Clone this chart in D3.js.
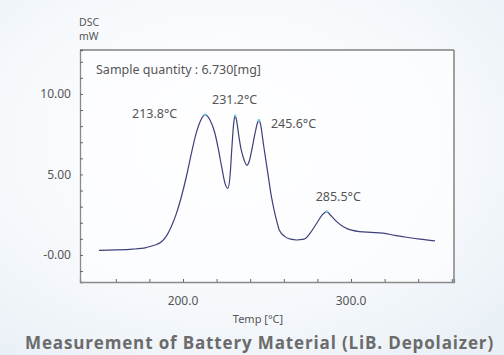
<!DOCTYPE html>
<html>
<head>
<meta charset="utf-8">
<script src="https://cdn.jsdelivr.net/npm/d3@7"></script>
<style>
  html, body { margin: 0; padding: 0; }
  body { width: 504px; height: 355px; overflow: hidden; }
  svg { display: block; font-family: "Noto Sans", "Open Sans", sans-serif; }
</style>
</head>
<body>
<svg id="chart"></svg>
<script>
// DSC curve (temperature in °C, DSC in mW)
const temps = [150, 160, 170, 178, 183, 187, 190, 193, 196, 199, 202.2, 205.2, 207.7, 210.5, 212, 213.1,
  214.4, 216, 219, 221, 223, 225, 226.7, 228, 229, 230.2, 231, 231.8, 233, 234.5, 235.9, 238.1, 239.5,
  240.9, 242.9, 244.3, 245.2, 246.2, 247.8, 249.3, 250.8, 252.5, 254.2, 255.8, 257.3, 260.7, 264,
  267.7, 272, 276, 279.6, 283, 285.5, 288, 291.5, 295, 298, 305, 312, 319, 326, 333, 341, 350];
const dsc = [0.29, 0.31, 0.36, 0.46, 0.6, 0.8, 1.15, 1.75, 2.55, 3.6, 4.95, 6.4, 7.5, 8.35, 8.62, 8.7,
  8.64, 8.4, 7.56, 6.6, 5.48, 4.45, 4.14, 4.9, 6.5, 8.2, 8.65, 8.4, 7.56, 6.6, 6.05, 5.57, 5.85,
  6.5, 7.56, 8.2, 8.36, 8.1, 6.94, 5.9, 4.86, 3.7, 2.8, 2.1, 1.55, 1.14, 0.98,
  0.93, 0.98, 1.4, 1.97, 2.5, 2.69, 2.45, 2.07, 1.78, 1.62, 1.45, 1.4, 1.35, 1.22, 1.1, 0.98, 0.87];

// labelled peaks
const peakLabels = ["213.8°C", "231.2°C", "245.6°C", "285.5°C"];
const peakTemps = [213.1, 231, 245.2, 285.5];
const peakValues = [8.7, 8.65, 8.36, 2.69];

const xTickValues = [200, 300];
const xTickLabels = ["200.0", "300.0"];
const yTickValues = [0, 5, 10];
const yTickLabels = ["-0.00", "5.00", "10.00"];

const width = 504, height = 355;
const margin = { top: 50, right: 50, bottom: 73, left: 80 };

const svg = d3.select("#chart")
    .attr("width", width)
    .attr("height", height);

// soft bluish backdrop
const defs = svg.append("defs");
const bg = defs.append("radialGradient").attr("id", "bg")
    .attr("cx", "45%").attr("cy", "40%").attr("r", "75%");
bg.append("stop").attr("offset", "0%").attr("stop-color", "#ffffff");
bg.append("stop").attr("offset", "60%").attr("stop-color", "#f6f9fc");
bg.append("stop").attr("offset", "100%").attr("stop-color", "#e9f0f6");
svg.append("rect").attr("width", width).attr("height", height).attr("fill", "url(#bg)");

const x = d3.scaleLinear()
    .domain([138.7, 361.3])
    .range([margin.left, width - margin.right]);
const y = d3.scaleLinear()
    .domain([-1.68, 12.73])
    .range([height - margin.bottom, margin.top]);

// plot area
svg.append("rect")
    .attr("x", x.range()[0]).attr("y", y.range()[1])
    .attr("width", x.range()[1] - x.range()[0])
    .attr("height", y.range()[0] - y.range()[1])
    .attr("fill", "#fdfeff").attr("fill-opacity", 0.7);

// minor ticks, pointing inward
const xAxis = svg.append("g")
    .attr("transform", `translate(0,${y.range()[0]})`)
    .call(d3.axisBottom(x).tickValues(d3.range(160, 361, 20)).tickSize(-3).tickFormat(""));
const yAxis = svg.append("g")
    .attr("transform", `translate(${x.range()[0]},0)`)
    .call(d3.axisLeft(y).tickValues(d3.range(-1, 13, 1)).tickSize(-3).tickFormat(""));
[xAxis, yAxis].forEach(a => {
    a.select(".domain").attr("stroke", "#8a8a8a").attr("stroke-width", 1.3);
    a.selectAll(".tick line").attr("stroke", "#666");
});

// top and right frame
svg.append("line")
    .attr("x1", x.range()[0]).attr("x2", x.range()[1])
    .attr("y1", y.range()[1]).attr("y2", y.range()[1])
    .attr("stroke", "#444").attr("stroke-width", 1.2);
svg.append("line")
    .attr("x1", x.range()[1]).attr("x2", x.range()[1])
    .attr("y1", y.range()[1]).attr("y2", y.range()[0])
    .attr("stroke", "#8a8a8a").attr("stroke-width", 1.6);

// tick labels
svg.append("g").selectAll("text")
    .data(yTickValues)
    .join("text")
    .attr("x", x.range()[0] - 9)
    .attr("y", d => y(d))
    .attr("dy", "0.36em")
    .attr("text-anchor", "end")
    .attr("font-size", 12)
    .attr("fill", "#555")
    .text((d, i) => yTickLabels[i]);
svg.append("g").selectAll("text")
    .data(xTickValues)
    .join("text")
    .attr("x", d => x(d))
    .attr("y", 305)
    .attr("text-anchor", "middle")
    .attr("font-size", 12)
    .attr("fill", "#555")
    .text((d, i) => xTickLabels[i]);

// axis titles
svg.append("text").attr("x", 79).attr("y", 26)
    .attr("font-size", 10.5).attr("fill", "#555").text("DSC");
svg.append("text").attr("x", 79).attr("y", 39.5)
    .attr("font-size", 10.5).attr("fill", "#555").text("mW");
svg.append("text").attr("x", 258).attr("y", 323)
    .attr("text-anchor", "middle")
    .attr("font-size", 11).attr("fill", "#555").text("Temp [°C]");

svg.append("text").attr("x", 96).attr("y", 74)
    .attr("font-size", 12.5).attr("fill", "#555")
    .text("Sample quantity : 6.730[mg]");

// curve
const line = d3.line()
    .x((d, i) => x(temps[i]))
    .y(d => y(d))
    .curve(d3.curveMonotoneX);
svg.append("path")
    .datum(dsc)
    .attr("fill", "none")
    .attr("stroke", "#3d4079")
    .attr("stroke-width", 1.2)
    .attr("d", line);

// peak markers and labels
svg.append("g").selectAll("circle")
    .data(peakTemps)
    .join("circle")
    .attr("cx", d => x(d))
    .attr("cy", (d, i) => y(peakValues[i]))
    .attr("r", 1.3)
    .attr("fill", "#6cc9e6");

const labelPos = [
    { dx: -73, dy: 3 },
    { dx: -23, dy: -12 },
    { dx: 12, dy: 8 },
    { dx: -11, dy: -11 }
];
svg.append("g").selectAll("text")
    .data(peakLabels)
    .join("text")
    .attr("x", (d, i) => x(peakTemps[i]) + labelPos[i].dx)
    .attr("y", (d, i) => y(peakValues[i]) + labelPos[i].dy)
    .attr("font-size", 12.5)
    .attr("fill", "#555")
    .text(d => d);

// caption
svg.append("text")
    .attr("x", 25).attr("y", 349)
    .attr("font-family", "'Open Sans', 'Noto Sans', sans-serif")
    .attr("font-weight", "bold")
    .attr("font-size", 17)
    .attr("letter-spacing", 0.85)
    .attr("fill", "#6b6b6b")
    .text("Measurement of Battery Material (LiB. Depolaizer)");
</script>
</body>
</html>
